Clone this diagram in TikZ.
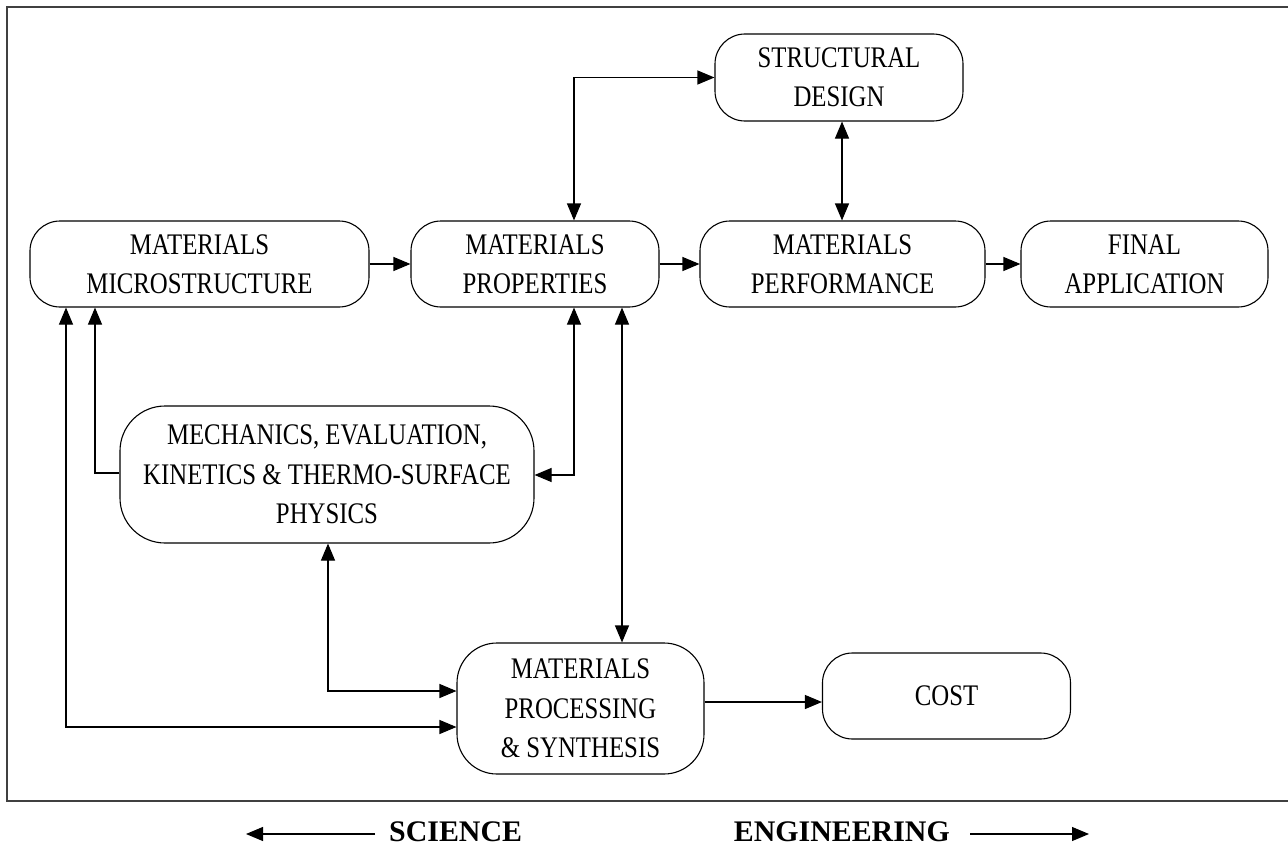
\documentclass[tikz,border=0pt]{standalone}
\usepackage{fontspec}
\setmainfont{Liberation Serif}[FakeStretch=0.83]
\newfontfamily\labfont{Liberation Serif}
\usetikzlibrary{arrows.meta}
\tikzset{
  box/.style={draw, line width=1.1bp, rounded corners=30bp, inner sep=0pt, align=center,
    font=\fontsize{30}{39.5}\selectfont},
  bigbox/.style={box, rounded corners=45bp},
  conn/.style={line width=1.1bp, -{Triangle[length=17bp,width=14bp]}},
  conn2/.style={line width=1.1bp, {Triangle[length=17bp,width=14bp]}-{Triangle[length=17bp,width=14bp]}},
  frameline/.style={line width=2bp, draw=black!75},
  lab/.style={font=\labfont\bfseries\fontsize{30}{34}\selectfont, inner sep=0pt}
}
\begin{document}
\begin{tikzpicture}[x=1bp,y=-1bp]
\useasboundingbox (0,0) rectangle (1288,849);
% frame (open on the right)
\draw[frameline] (1288,7) -- (7,7) -- (7,801) -- (1288,801);
% nodes
\node[box, minimum width=339bp, minimum height=86bp] (micro) at (199.5,264) {MATERIALS\\MICROSTRUCTURE};
\node[box, minimum width=248bp, minimum height=86bp] (prop) at (535,264) {MATERIALS\\PROPERTIES};
\node[box, minimum width=285bp, minimum height=86bp] (perf) at (842.5,264) {MATERIALS\\PERFORMANCE};
\node[box, minimum width=247bp, minimum height=86bp] (final) at (1144.5,264) {FINAL\\APPLICATION};
\node[box, minimum width=248bp, minimum height=87bp] (design) at (839,77.5) {STRUCTURAL\\DESIGN};
\node[bigbox, minimum width=414bp, minimum height=137bp] (mech) at (327,474.5) {MECHANICS, EVALUATION,\\KINETICS \& THERMO-SURFACE\\PHYSICS};
\node[bigbox, rounded corners=40bp, minimum width=247bp, minimum height=131bp] (proc) at (580.5,708.5) {MATERIALS\\PROCESSING\\\& SYNTHESIS};
\node[box, minimum width=248bp, minimum height=86bp] (cost) at (946.5,696) {COST};
% connectors
\draw[conn] (micro.east) -- (prop.west);
\draw[conn] (prop.east) -- (perf.west);
\draw[conn] (perf.east) -- (final.west);
\draw[conn2] (574,0 |- prop.north) -- (574,0 |- design.west) -- (design.west);
\draw[conn2] (842,0 |- design.south) -- (842,0 |- perf.north);
\draw[conn2] (574,0 |- prop.south) -- (574,475) -- (mech.east |- 0,475);
\draw[conn2] (622,0 |- prop.south) -- (622,0 |- proc.north);
\draw[conn] (mech.west |- 0,473) -- (95,473) -- (95,0 |- micro.south);
\draw[conn2] (328,0 |- mech.south) -- (328,691) -- (proc.west |- 0,691);
\draw[conn2] (66,0 |- micro.south) -- (66,727) -- (proc.west |- 0,727);
\draw[conn] (proc.east |- 0,702) -- (cost.west |- 0,702);
% bottom labels
\node[lab, anchor=west] (sci) at (389,832) {SCIENCE};
\node[lab, anchor=east] (eng) at (950,832) {ENGINEERING};
\coordinate (sciend) at (246,834);
\coordinate (engend) at (1089,834);
\draw[conn] ([xshift=-14bp]sci.west |- sciend) -- (sciend);
\draw[conn] ([xshift=20bp]eng.east |- engend) -- (engend);
\end{tikzpicture}
\end{document}
